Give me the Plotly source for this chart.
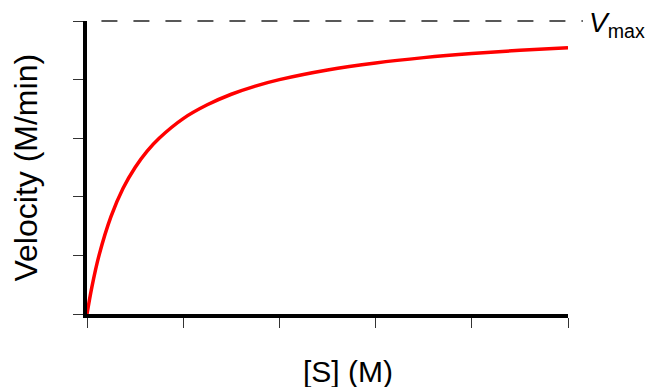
import plotly.graph_objects as go

# Substrate concentration [S] (M) and velocity (M/min)
substrate = [0, 0.1, 0.25, 0.5, 0.75, 1.0, 1.25, 1.5, 2.0, 2.5, 3.0, 3.5, 4.0, 5.0, 6.0, 7.0, 8.0, 9.0, 10.0]
velocity = [0, 0.091, 0.20, 0.333, 0.429, 0.50, 0.556, 0.60, 0.667, 0.714, 0.75, 0.778, 0.80, 0.833, 0.857, 0.875, 0.889, 0.90, 0.909]
vmax = 1.0
x_ticks = [0, 2, 4, 6, 8, 10]
y_ticks = [0, 0.2, 0.4, 0.6, 0.8, 1.0]

FONT = "Liberation Sans, Arial, sans-serif"

fig = go.Figure()
fig.add_trace(go.Scatter(
    x=substrate, y=velocity, mode="lines",
    line=dict(color="#ff0000", width=3.5, shape="spline"),
    hoverinfo="skip", showlegend=False,
))

fig.add_shape(type="line", xref="paper", yref="paper",
              x0=0.03, x1=1.031, y0=vmax, y1=vmax,
              line=dict(color="#222222", width=1.3, dash="16px,16px"))

fig.update_layout(
    width=649, height=387,
    margin=dict(l=87, r=81, t=21, b=73),
    paper_bgcolor="white", plot_bgcolor="white",
    font=dict(family=FONT, color="black"),
    showlegend=False,
    xaxis=dict(range=[0, 10], tickvals=x_ticks, showticklabels=False,
               ticks="outside", ticklen=10, tickwidth=1, tickcolor="#333333",
               showline=True, linecolor="black", linewidth=3.5,
               showgrid=False, zeroline=False, fixedrange=True),
    yaxis=dict(range=[0, vmax], tickvals=y_ticks, showticklabels=False,
               ticks="outside", ticklen=10, tickwidth=1, tickcolor="#333333",
               showline=True, linecolor="black", linewidth=3.5,
               showgrid=False, zeroline=False, fixedrange=True),
    annotations=[
        dict(text="[S] (M)", xref="paper", yref="paper",
             x=(348 - 87) / 481, y=-(371 - 314) / 293,
             xanchor="center", yanchor="middle", showarrow=False,
             font=dict(size=30, family=FONT, color="black")),
        dict(text="Velocity (M/min)", xref="paper", yref="paper",
             x=-(87 - 25) / 481, y=0.5, textangle=-90,
             xanchor="center", yanchor="middle", showarrow=False,
             font=dict(size=32, family=FONT, color="black")),
        dict(text="<i>V</i><sub>max</sub>", xref="paper", yref="paper",
             x=(587 - 87) / 481, y=1 + (21 - 24) / 293,
             xanchor="left", yanchor="middle", showarrow=False,
             font=dict(size=28, family=FONT, color="black")),
    ],
)

fig.write_html("out.html", config={"displayModeBar": False})

with open("out.html", encoding="utf-8") as f:
    html = f.read()
html = html.replace("<head>", "<head><style>html,body{margin:0;padding:0;overflow:hidden}</style>", 1)
with open("out.html", "w", encoding="utf-8") as f:
    f.write(html)
